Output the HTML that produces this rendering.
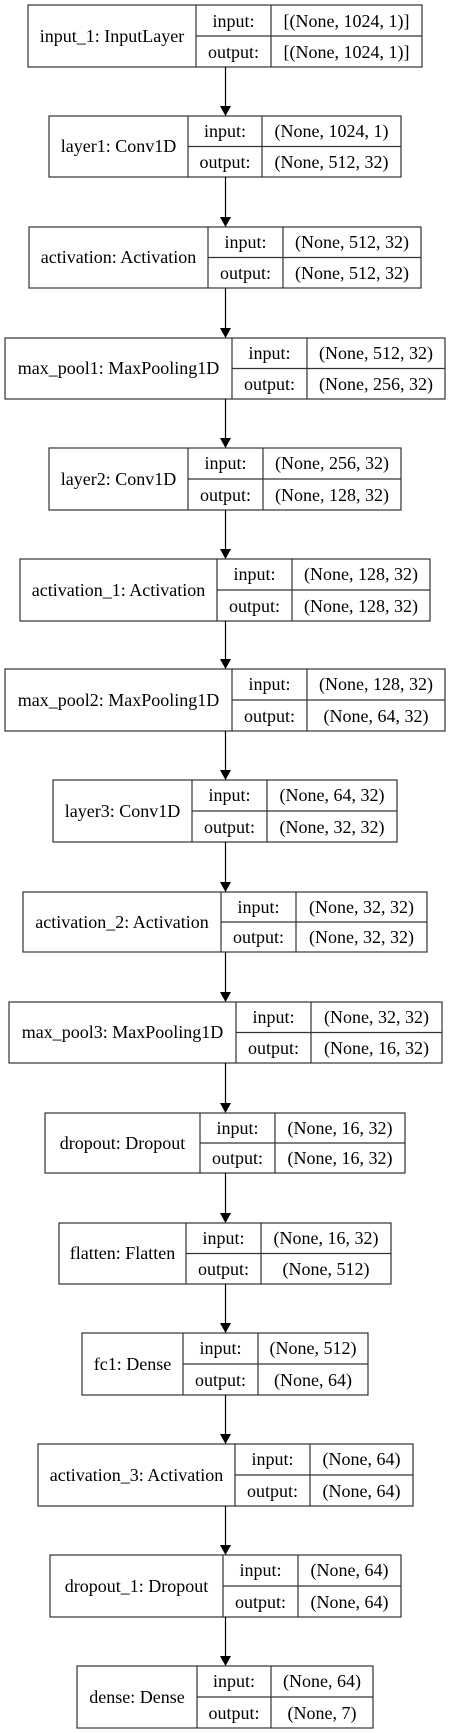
<!DOCTYPE html>
<html><head><meta charset="utf-8"><style>
html,body{margin:0;padding:0;background:#fff}
svg{display:block}
text{font-family:"Liberation Serif",serif;font-size:18px;fill:#000;text-anchor:middle}
rect,line.b{fill:none;stroke:#333;stroke-width:1.2}
line.a{stroke:#000;stroke-width:1.2}
polygon{fill:#000}
</style></head><body>
<svg width="451" height="1733" viewBox="0 0 451 1733" xmlns="http://www.w3.org/2000/svg">
<g transform="translate(0,1)">
<text x="112" y="41">input_1: InputLayer</text><text x="233.5" y="26">input:</text><text x="233.5" y="57">output:</text><text x="346.5" y="26">[(None, 1024, 1)]</text><text x="346.5" y="57">[(None, 1024, 1)]</text>
<text x="118.5" y="151">layer1: Conv1D</text><text x="225" y="136">input:</text><text x="225" y="167">output:</text><text x="331.5" y="136">(None, 1024, 1)</text><text x="331.5" y="167">(None, 512, 32)</text>
<text x="118.5" y="262">activation: Activation</text><text x="245.5" y="247">input:</text><text x="245.5" y="278">output:</text><text x="352" y="247">(None, 512, 32)</text><text x="352" y="278">(None, 512, 32)</text>
<text x="118.5" y="373">max_pool1: MaxPooling1D</text><text x="269.5" y="358">input:</text><text x="269.5" y="389">output:</text><text x="376" y="358">(None, 512, 32)</text><text x="376" y="389">(None, 256, 32)</text>
<text x="118.5" y="484">layer2: Conv1D</text><text x="225.5" y="468">input:</text><text x="225.5" y="500">output:</text><text x="332" y="468">(None, 256, 32)</text><text x="332" y="500">(None, 128, 32)</text>
<text x="118.5" y="595">activation_1: Activation</text><text x="254.5" y="579">input:</text><text x="254.5" y="611">output:</text><text x="361" y="579">(None, 128, 32)</text><text x="361" y="611">(None, 128, 32)</text>
<text x="118.5" y="705">max_pool2: MaxPooling1D</text><text x="269.5" y="689">input:</text><text x="269.5" y="721">output:</text><text x="376" y="689">(None, 128, 32)</text><text x="376" y="721">(None, 64, 32)</text>
<text x="122.5" y="816">layer3: Conv1D</text><text x="229.5" y="800">input:</text><text x="229.5" y="832">output:</text><text x="332" y="800">(None, 64, 32)</text><text x="332" y="832">(None, 32, 32)</text>
<text x="122" y="927">activation_2: Activation</text><text x="258.5" y="912">input:</text><text x="258.5" y="942">output:</text><text x="361.5" y="912">(None, 32, 32)</text><text x="361.5" y="942">(None, 32, 32)</text>
<text x="122.5" y="1037">max_pool3: MaxPooling1D</text><text x="273.5" y="1022">input:</text><text x="273.5" y="1053">output:</text><text x="376.5" y="1022">(None, 32, 32)</text><text x="376.5" y="1053">(None, 16, 32)</text>
<text x="122.5" y="1148">dropout: Dropout</text><text x="237.5" y="1133">input:</text><text x="237.5" y="1163">output:</text><text x="340" y="1133">(None, 16, 32)</text><text x="340" y="1163">(None, 16, 32)</text>
<text x="122.5" y="1258">flatten: Flatten</text><text x="223.5" y="1243">input:</text><text x="223.5" y="1274">output:</text><text x="326" y="1243">(None, 16, 32)</text><text x="326" y="1274">(None, 512)</text>
<text x="132.5" y="1369">fc1: Dense</text><text x="220.5" y="1353">input:</text><text x="220.5" y="1385">output:</text><text x="313" y="1353">(None, 512)</text><text x="313" y="1385">(None, 64)</text>
<text x="136.5" y="1480">activation_3: Activation</text><text x="272.5" y="1464">input:</text><text x="272.5" y="1496">output:</text><text x="361.5" y="1464">(None, 64)</text><text x="361.5" y="1496">(None, 64)</text>
<text x="136.5" y="1591">dropout_1: Dropout</text><text x="260.5" y="1575">input:</text><text x="260.5" y="1607">output:</text><text x="349.5" y="1575">(None, 64)</text><text x="349.5" y="1607">(None, 64)</text>
<text x="137" y="1702">dense: Dense</text><text x="234" y="1686">input:</text><text x="234" y="1718">output:</text><text x="322" y="1686">(None, 64)</text><text x="322" y="1718">(None, 7)</text>
</g>
<rect x="28" y="5" width="394" height="62"/><line class="b" x1="196" y1="5" x2="196" y2="67"/><line class="b" x1="271" y1="5" x2="271" y2="67"/><line class="b" x1="196" y1="36" x2="422" y2="36"/>
<rect x="49" y="116" width="352" height="61"/><line class="b" x1="188" y1="116" x2="188" y2="177"/><line class="b" x1="262" y1="116" x2="262" y2="177"/><line class="b" x1="188" y1="146.5" x2="401" y2="146.5"/>
<rect x="29" y="227" width="392" height="61"/><line class="b" x1="208" y1="227" x2="208" y2="288"/><line class="b" x1="283" y1="227" x2="283" y2="288"/><line class="b" x1="208" y1="257.5" x2="421" y2="257.5"/>
<rect x="5" y="338" width="440" height="61"/><line class="b" x1="232" y1="338" x2="232" y2="399"/><line class="b" x1="307" y1="338" x2="307" y2="399"/><line class="b" x1="232" y1="368.5" x2="445" y2="368.5"/>
<rect x="49" y="448" width="352" height="62"/><line class="b" x1="188" y1="448" x2="188" y2="510"/><line class="b" x1="263" y1="448" x2="263" y2="510"/><line class="b" x1="188" y1="479" x2="401" y2="479"/>
<rect x="20" y="559" width="410" height="62"/><line class="b" x1="217" y1="559" x2="217" y2="621"/><line class="b" x1="292" y1="559" x2="292" y2="621"/><line class="b" x1="217" y1="590" x2="430" y2="590"/>
<rect x="5" y="669" width="440" height="62"/><line class="b" x1="232" y1="669" x2="232" y2="731"/><line class="b" x1="307" y1="669" x2="307" y2="731"/><line class="b" x1="232" y1="700" x2="445" y2="700"/>
<rect x="53" y="780" width="344" height="62"/><line class="b" x1="192" y1="780" x2="192" y2="842"/><line class="b" x1="267" y1="780" x2="267" y2="842"/><line class="b" x1="192" y1="811" x2="397" y2="811"/>
<rect x="23" y="892" width="404" height="60"/><line class="b" x1="221" y1="892" x2="221" y2="952"/><line class="b" x1="296" y1="892" x2="296" y2="952"/><line class="b" x1="221" y1="922" x2="427" y2="922"/>
<rect x="9" y="1002" width="433" height="61"/><line class="b" x1="236" y1="1002" x2="236" y2="1063"/><line class="b" x1="311" y1="1002" x2="311" y2="1063"/><line class="b" x1="236" y1="1032.5" x2="442" y2="1032.5"/>
<rect x="45" y="1113" width="360" height="60"/><line class="b" x1="200" y1="1113" x2="200" y2="1173"/><line class="b" x1="275" y1="1113" x2="275" y2="1173"/><line class="b" x1="200" y1="1143" x2="405" y2="1143"/>
<rect x="59" y="1223" width="332" height="61"/><line class="b" x1="186" y1="1223" x2="186" y2="1284"/><line class="b" x1="261" y1="1223" x2="261" y2="1284"/><line class="b" x1="186" y1="1253.5" x2="391" y2="1253.5"/>
<rect x="82" y="1333" width="286" height="62"/><line class="b" x1="183" y1="1333" x2="183" y2="1395"/><line class="b" x1="258" y1="1333" x2="258" y2="1395"/><line class="b" x1="183" y1="1364" x2="368" y2="1364"/>
<rect x="38" y="1444" width="375" height="62"/><line class="b" x1="235" y1="1444" x2="235" y2="1506"/><line class="b" x1="310" y1="1444" x2="310" y2="1506"/><line class="b" x1="235" y1="1475" x2="413" y2="1475"/>
<rect x="50" y="1555" width="351" height="62"/><line class="b" x1="223" y1="1555" x2="223" y2="1617"/><line class="b" x1="298" y1="1555" x2="298" y2="1617"/><line class="b" x1="223" y1="1586" x2="401" y2="1586"/>
<rect x="77" y="1666" width="296" height="62"/><line class="b" x1="197" y1="1666" x2="197" y2="1728"/><line class="b" x1="271" y1="1666" x2="271" y2="1728"/><line class="b" x1="197" y1="1697" x2="373" y2="1697"/>
<line class="a" x1="225.5" y1="67" x2="225.5" y2="106"/><polygon points="220,106 231,106 225.5,116"/>
<line class="a" x1="225.5" y1="177" x2="225.5" y2="217"/><polygon points="220,217 231,217 225.5,227"/>
<line class="a" x1="225.5" y1="288" x2="225.5" y2="328"/><polygon points="220,328 231,328 225.5,338"/>
<line class="a" x1="225.5" y1="399" x2="225.5" y2="438"/><polygon points="220,438 231,438 225.5,448"/>
<line class="a" x1="225.5" y1="510" x2="225.5" y2="549"/><polygon points="220,549 231,549 225.5,559"/>
<line class="a" x1="225.5" y1="621" x2="225.5" y2="659"/><polygon points="220,659 231,659 225.5,669"/>
<line class="a" x1="225.5" y1="731" x2="225.5" y2="770"/><polygon points="220,770 231,770 225.5,780"/>
<line class="a" x1="225.5" y1="842" x2="225.5" y2="882"/><polygon points="220,882 231,882 225.5,892"/>
<line class="a" x1="225.5" y1="952" x2="225.5" y2="992"/><polygon points="220,992 231,992 225.5,1002"/>
<line class="a" x1="225.5" y1="1063" x2="225.5" y2="1103"/><polygon points="220,1103 231,1103 225.5,1113"/>
<line class="a" x1="225.5" y1="1173" x2="225.5" y2="1213"/><polygon points="220,1213 231,1213 225.5,1223"/>
<line class="a" x1="225.5" y1="1284" x2="225.5" y2="1323"/><polygon points="220,1323 231,1323 225.5,1333"/>
<line class="a" x1="225.5" y1="1395" x2="225.5" y2="1434"/><polygon points="220,1434 231,1434 225.5,1444"/>
<line class="a" x1="225.5" y1="1506" x2="225.5" y2="1545"/><polygon points="220,1545 231,1545 225.5,1555"/>
<line class="a" x1="225.5" y1="1617" x2="225.5" y2="1656"/><polygon points="220,1656 231,1656 225.5,1666"/>
</svg>
</body></html>
